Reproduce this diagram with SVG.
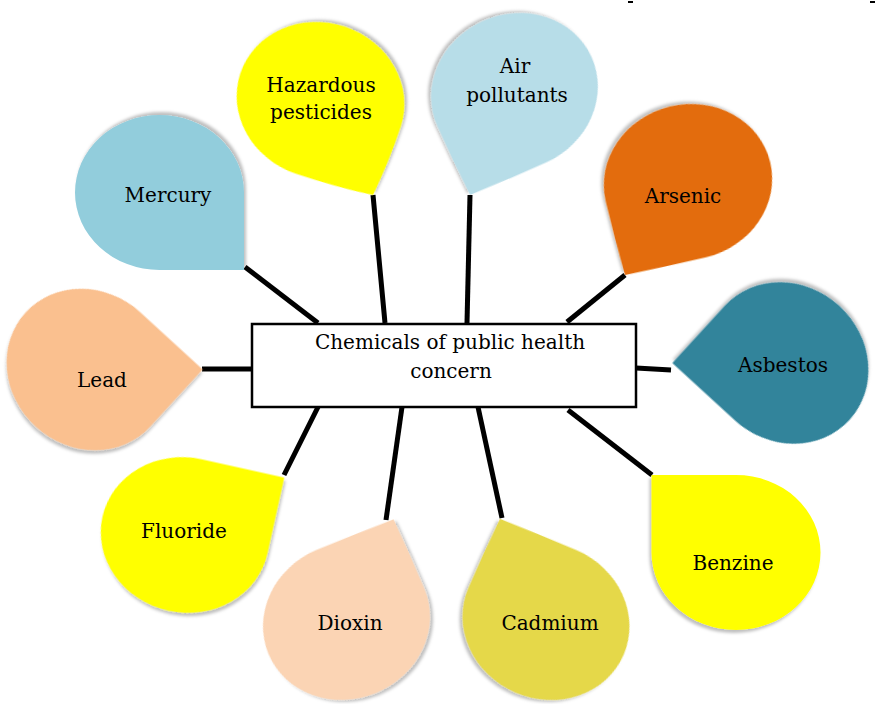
<svg xmlns="http://www.w3.org/2000/svg" xmlns:xlink="http://www.w3.org/1999/xlink" width="876" height="704" viewBox="0 0 876 704">
  <style>
    .lbl { font-family: "DejaVu Serif", "Liberation Serif", serif; font-size: 20px; fill: #000; text-anchor: middle; }
    .conn line { stroke: #000; stroke-width: 5; stroke-linecap: butt; }
    .drop { filter: url(#shadow); }
  </style>
  <defs>
    <filter id="shadow" x="-20%" y="-20%" width="140%" height="140%">
      <feDropShadow dx="2" dy="3" stdDeviation="1.5" flood-color="#000" flood-opacity="0.25"/>
    </filter>
    <!-- teardrop, ellipse 84.5 x 77.5, tip at top-right corner (adj = 1) -->
    <path id="drop1" d="M-84.5,0 A84.5,77.5 0 0 1 0,-77.5 Q42.25,-77.5 84.5,-77.5 Q84.5,-38.75 84.5,0 A84.5,77.5 0 0 1 0,77.5 A84.5,77.5 0 0 1 -84.5,0 Z"/>
    <!-- adj 0.98 -->
    <path id="drop98" d="M-84.5,0 A84.5,77.5 0 0 1 0,-77.5 Q41.4,-77.5 82.8,-76 Q84.5,-38 84.5,0 A84.5,77.5 0 0 1 0,77.5 A84.5,77.5 0 0 1 -84.5,0 Z"/>
    <!-- adj 0.946 -->
    <path id="drop95" d="M-84.5,0 A84.5,77.5 0 0 1 0,-77.5 Q40,-77.5 79.9,-73.3 Q84.5,-36.7 84.5,0 A84.5,77.5 0 0 1 0,77.5 A84.5,77.5 0 0 1 -84.5,0 Z"/>
  </defs>

  <g class="conn" id="connectors">
    <line x1="245" y1="267" x2="318" y2="323"/>
    <line x1="373" y1="195" x2="385" y2="323"/>
    <line x1="470" y1="195" x2="467" y2="323"/>
    <line x1="625" y1="275" x2="567" y2="322"/>
    <line x1="636" y1="368" x2="671" y2="370"/>
    <line x1="202" y1="369" x2="252" y2="369"/>
    <line x1="284" y1="475" x2="318" y2="407"/>
    <line x1="386" y1="520" x2="402" y2="407"/>
    <line x1="478" y1="407" x2="502" y2="518"/>
    <line x1="568" y1="410" x2="652" y2="475"/>
  </g>

  <g id="node-mercury">
    <use href="#drop1" class="drop" fill="#92CDDC" transform="translate(159.5,192.5) scale(1,-1)"/>
    <text class="lbl" x="168" y="202">Mercury</text>
  </g>
  <g id="node-hazardous">
    <use href="#drop95" class="drop" fill="#FFFF00" transform="translate(320.5,100.2) rotate(18.5) scale(1,-1)"/>
    <text class="lbl" x="321" y="92">Hazardous</text>
    <text class="lbl" x="321" y="119">pesticides</text>
  </g>
  <g id="node-air">
    <use href="#drop98" class="drop" fill="#B7DDE8" transform="translate(514.5,91.7) rotate(155.8)"/>
    <text class="lbl" x="515" y="73">Air</text>
    <text class="lbl" x="517" y="102">pollutants</text>
  </g>
  <g id="node-arsenic">
    <use href="#drop98" class="drop" fill="#E36C0A" transform="translate(688,181.9) rotate(166.6)"/>
    <text class="lbl" x="683" y="203">Arsenic</text>
  </g>
  <g id="node-asbestos">
    <use href="#drop1" class="drop" fill="#31849B" transform="translate(787,363) rotate(222.5)"/>
    <text class="lbl" x="783" y="372">Asbestos</text>
  </g>
  <g id="node-lead">
    <use href="#drop1" class="drop" fill="#FAC08F" transform="translate(88,369.5) rotate(42.5)"/>
    <text class="lbl" x="102" y="387">Lead</text>
  </g>
  <g id="node-fluoride">
    <use href="#drop1" class="drop" fill="#FFFF00" transform="translate(185,535) rotate(12.5)"/>
    <text class="lbl" x="184" y="538">Fluoride</text>
  </g>
  <g id="node-dioxin">
    <use href="#drop98" class="drop" fill="#FBD4B4" transform="translate(346.5,621.4) rotate(-22.7)"/>
    <text class="lbl" x="350" y="630">Dioxin</text>
  </g>
  <g id="node-cadmium">
    <use href="#drop98" class="drop" fill="#E5D84A" transform="translate(546,621.4) rotate(-156.7) scale(1,-1)"/>
    <text class="lbl" x="550" y="630">Cadmium</text>
  </g>
  <g id="node-benzine">
    <use href="#drop1" class="drop" fill="#FFFF00" transform="translate(736,552.5) scale(-1,1)"/>
    <text class="lbl" x="733" y="570">Benzine</text>
  </g>

  <g id="node-center">
    <rect x="252" y="324" width="384" height="83" fill="#FFFFFF" stroke="#000" stroke-width="2.5"/>
    <text class="lbl" x="450" y="349">Chemicals of public health</text>
    <text class="lbl" x="451" y="378">concern</text>
  </g>

  <g id="marks">
    <rect x="628" y="1" width="5" height="2" fill="#000"/>
    <rect x="870" y="1" width="5" height="2" fill="#000"/>
  </g>
</svg>
